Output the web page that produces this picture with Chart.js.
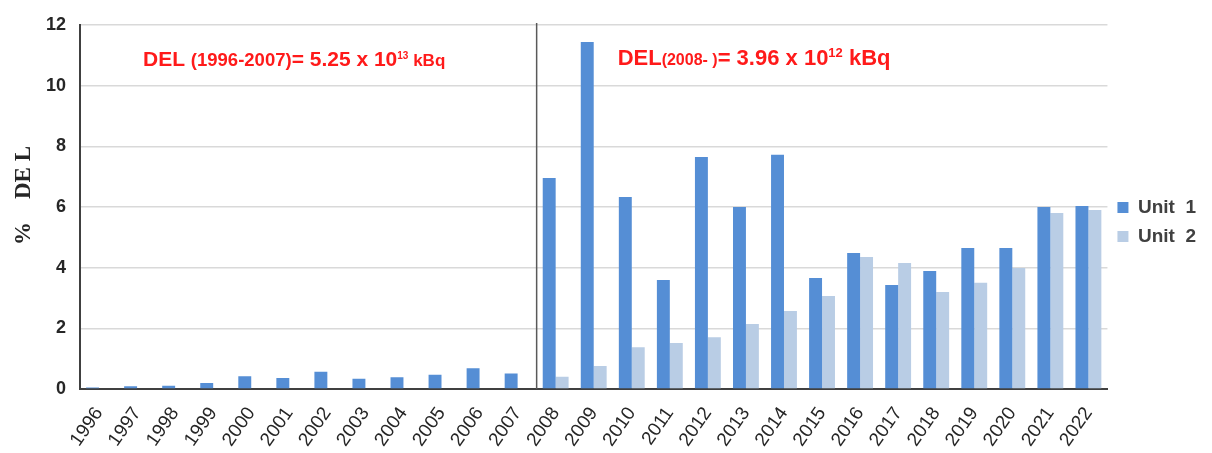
<!DOCTYPE html>
<html>
<head>
<meta charset="utf-8">
<script src="https://cdn.jsdelivr.net/npm/chart.js@4"></script>
<style>
  html, body { margin: 0; padding: 0; background: #fff; }
  #wrap { width: 1212px; height: 453px; }
</style>
</head>
<body>
<div id="wrap"><canvas id="delChart"></canvas></div>
<script>
// data
var years = ['1996', '1997', '1998', '1999', '2000', '2001', '2002', '2003', '2004',
  '2005', '2006', '2007', '2008', '2009', '2010', '2011', '2012', '2013', '2014',
  '2015', '2016', '2017', '2018', '2019', '2020', '2021', '2022'];
var unit1 = [0.05, 0.09, 0.11, 0.2, 0.42, 0.36, 0.57, 0.34, 0.39, 0.47, 0.68, 0.51,
  6.96, 11.44, 6.33, 3.59, 7.65, 6.0, 7.72, 3.66, 4.48, 3.43, 3.89, 4.65, 4.65, 6.0, 6.03];
var unit2 = [null, null, null, null, null, null, null, null, null, null, null, null,
  0.4, 0.76, 1.38, 1.52, 1.71, 2.14, 2.57, 3.07, 4.35, 4.15, 3.2, 3.5, 3.99, 5.8, 5.9];
var yTicks = [0, 2, 4, 6, 8, 10, 12];

// vertical line between 2007 and 2008 + the two red DEL notes
var notes = {
  id: 'notes',
  afterDatasetsDraw: function (chart) {
    var ctx = chart.ctx, area = chart.chartArea, x = chart.scales.x;
    var sep = (x.getPixelForValue(11) + x.getPixelForValue(12)) / 2;
    ctx.save();
    ctx.strokeStyle = '#595959';
    ctx.lineWidth = 1.5;
    ctx.beginPath();
    ctx.moveTo(sep, area.top - 2);
    ctx.lineTo(sep, area.bottom);
    ctx.stroke();

    function write(parts, px, py) {
      ctx.fillStyle = '#ff1a1a';
      ctx.textBaseline = 'alphabetic';
      ctx.textAlign = 'left';
      parts.forEach(function (p) {
        ctx.font = p[1];
        ctx.fillText(p[0], px, py + (p[2] || 0));
        px += ctx.measureText(p[0]).width;
      });
    }
    write([
      ['DEL ', 'bold 21px Arial'],
      ['(1996-2007)', 'bold 18.5px Arial'],
      ['= 5.25 x 10', 'bold 21px Arial'],
      ['13', 'bold 10px Arial', -7],
      [' kBq', 'bold 17px Arial']
    ], area.left + 63, 66);
    write([
      ['DEL', 'bold 22px Arial'],
      ['(2008- )', 'bold 16px Arial'],
      ['= 3.96 x 10', 'bold 22px Arial'],
      ['12', 'bold 13px Arial', -8],
      [' kBq', 'bold 22px Arial']
    ], sep + 81, 65);
    ctx.restore();
  }
};

var ctx = document.getElementById('delChart').getContext('2d');
var delChart = new Chart(ctx, {
  type: 'bar',
  data: {
    labels: years,
    datasets: [{
      label: 'Unit  1',
      data: unit1,
      backgroundColor: '#558ed5'
    }, {
      label: 'Unit  2',
      data: unit2,
      backgroundColor: '#b9cde5'
    }]
  },
  options: {
    responsive: true,
    maintainAspectRatio: false,
    animation: false,
    layout: { padding: { top: 25, right: 6, left: 0, bottom: 0 } },
    datasets: { bar: { categoryPercentage: 0.68, barPercentage: 1 } },
    plugins: {
      tooltip: { enabled: false },
      legend: {
        position: 'right',
        fullSize: false,
        title: { display: true, text: '', padding: { top: 9, bottom: 9 }, font: { size: 10 } },
        labels: {
          boxWidth: 11,
          boxHeight: 11,
          padding: 10,
          color: '#404040',
          font: { family: 'Arial', size: 19, weight: 'bold' }
        }
      }
    },
    scales: {
      x: {
        grid: { display: false },
        border: { display: true, color: '#404040', width: 2 },
        ticks: {
          color: '#262626',
          font: { family: 'Arial', size: 19 },
          minRotation: 55,
          maxRotation: 55,
          padding: 6,
          autoSkip: false
        },
        afterFit: function (s) { s.height = 64; }
      },
      y: {
        min: 0,
        max: 12,
        afterBuildTicks: function (s) {
          s.ticks = yTicks.map(function (v) { return { value: v }; });
        },
        grid: { color: '#d9d9d9', lineWidth: 1.5, drawTicks: false },
        border: { display: true, color: '#404040', width: 2 },
        ticks: {
          color: '#262626',
          padding: 14,
          font: { family: 'Arial', size: 18, weight: 'bold' }
        },
        title: {
          display: true,
          text: '    %    DE L',
          color: '#262626',
          padding: { top: 10, bottom: 0 },
          font: { family: 'Liberation Serif', size: 23, weight: 'bold' }
        },
        afterFit: function (s) { s.width = 80; }
      }
    }
  },
  plugins: [notes]
});
</script>
</body>
</html>
